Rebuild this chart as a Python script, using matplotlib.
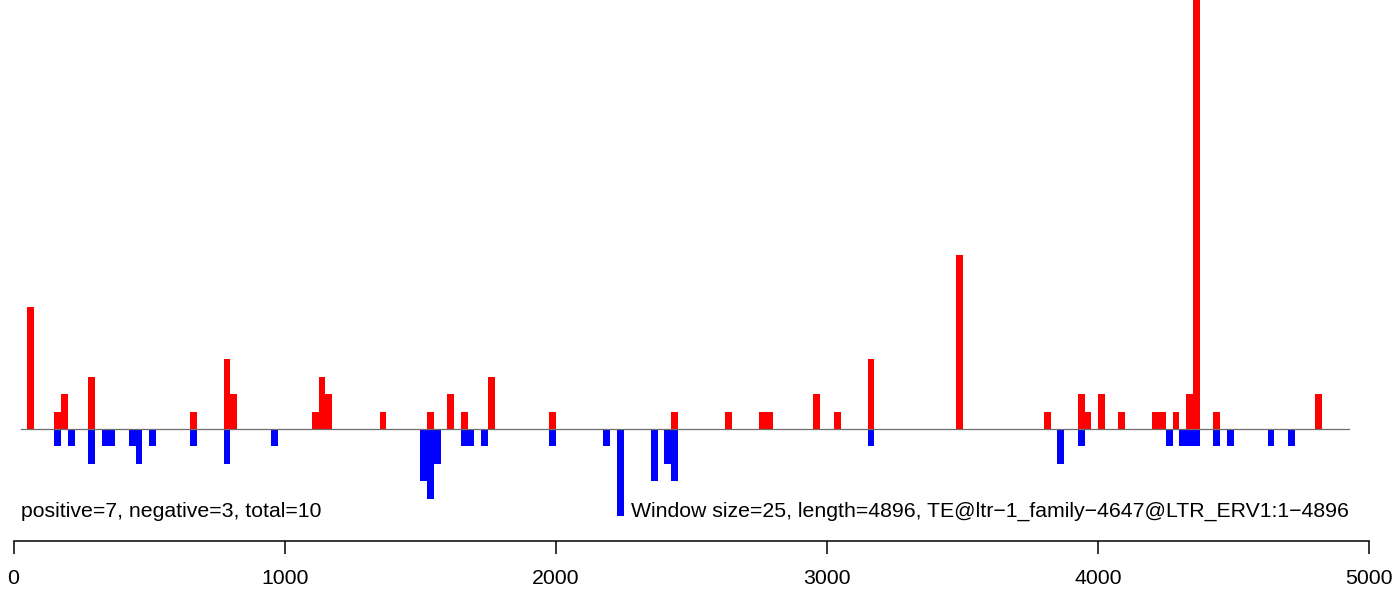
import matplotlib
matplotlib.use("Agg")
import matplotlib.pyplot as plt
import numpy as np

plt.rcParams['font.family'] = ['Liberation Sans', 'DejaVu Sans']

window = 25
length = 4896

pos_idx = [2, 6, 7, 11, 26, 31, 32, 44, 45, 46, 54, 61, 64, 66, 70, 79, 97, 105, 110, 111,
           118, 121, 126, 139, 152, 157, 158, 160, 163, 168, 169, 171, 173, 174, 177, 192]
pos_val = [7, 1, 2, 3, 1, 4, 2, 1, 3, 2, 1, 1, 2, 1, 3, 1, 1, 1, 1, 1,
           2, 1, 4, 10, 1, 2, 1, 2, 1, 1, 1, 1, 2, 25, 1, 2]

neg_idx = [6, 8, 11, 13, 14, 17, 18, 20, 26, 31, 38, 60, 61, 62, 66, 67, 69, 79, 87, 89,
           94, 96, 97, 126, 154, 157, 170, 172, 173, 174, 177, 179, 185, 188]
neg_val = [1, 1, 2, 1, 1, 1, 2, 1, 1, 2, 1, 3, 4, 2, 1, 1, 1, 1, 1, 5,
           3, 2, 3, 1, 2, 1, 1, 1, 1, 1, 1, 1, 1, 1]

xticks = [0, 1000, 2000, 3000, 4000, 5000]
left_text = "positive=7, negative=3, total=10"
right_text = "Window size=25, length=4896, TE@ltr\u22121_family\u22124647@LTR_ERV1:1\u22124896"

W, H = 1397, 592
fig = plt.figure(figsize=(W / 100, H / 100), dpi=100)
x0_px, x1_px = 13.5, 1369.3
axis_px = 541
ax = fig.add_axes([x0_px / W, (H - axis_px) / H, (x1_px - x0_px) / W, axis_px / H])

unit_px = 17.43
base_px = 429
ax.set_xlim(0, 5000)
ax.set_ylim(-(axis_px - base_px) / unit_px, base_px / unit_px)

pos_x = np.array(pos_idx) * window
neg_x = np.array(neg_idx) * window
ax.bar(pos_x, pos_val, width=window, align='edge', color='#FF0000', linewidth=0)
ax.bar(neg_x, -np.array(neg_val), width=window, align='edge', color='#0000FF', linewidth=0)

# baseline spanning the plot region
xl = (20.7 - x0_px) / (x1_px - x0_px)
xr = (1349 - x0_px) / (x1_px - x0_px)
ax.axhline(0, xmin=xl, xmax=xr, color='#6e6e6e', linewidth=0.9, zorder=3)

for s in ['top', 'left', 'right']:
    ax.spines[s].set_visible(False)
ax.spines['bottom'].set_linewidth(1.1)
ax.set_yticks([])
ax.set_xticks(xticks)
ax.set_xticklabels([str(v) for v in xticks])
ax.tick_params(axis='x', direction='out', length=9.5, width=1.1, pad=11, labelsize=15.3)

text_y = -(517 - base_px) / unit_px
ax.text(xl, text_y, left_text, transform=ax.get_yaxis_transform(),
        ha='left', va='baseline', fontsize=15.3)
ax.text(xr, text_y, right_text, transform=ax.get_yaxis_transform(),
        ha='right', va='baseline', fontsize=15.3)

fig.savefig("out.png", dpi=100)
